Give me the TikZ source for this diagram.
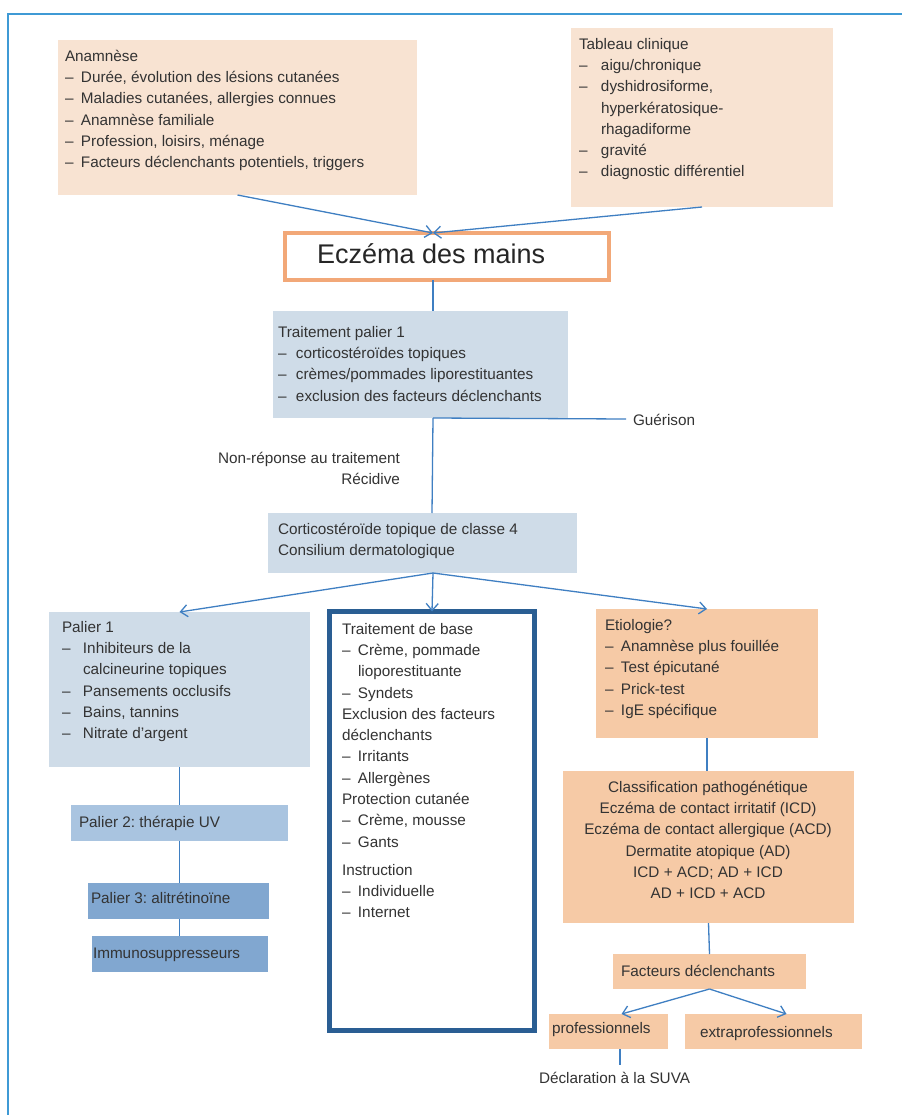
\documentclass[tikz,border=0pt]{standalone}
\usepackage{fontspec}
\setmainfont{Liberation Sans}
\usetikzlibrary{arrows.meta,fit,calc}
\definecolor{peach}{HTML}{F8E3D2}
\definecolor{orng}{HTML}{F6CAA6}
\definecolor{lblue}{HTML}{CFDCE8}
\definecolor{mblue}{HTML}{A9C4E0}
\definecolor{dblue}{HTML}{81A7D0}
\definecolor{conn}{HTML}{3F7FC2}
\definecolor{framec}{HTML}{3F9AD5}
\definecolor{ttl}{HTML}{F2A878}
\definecolor{navy}{HTML}{2A5E93}
\definecolor{txtc}{HTML}{333333}
\newcommand\li[2][16pt]{\makebox[#1][l]{–}#2}
\newcommand\lc[2][16pt]{\hspace*{#1}#2}
\frenchspacing
\begin{document}
\begin{tikzpicture}[x=1pt,y=-1pt,
 bx/.style={inner sep=0pt,outer sep=0pt},
 txt/.style={inner sep=0pt,outer sep=0pt,text=txtc,font=\fontsize{15.3}{21.3}\selectfont\frenchspacing,align=left},
 lbl/.style={inner sep=0pt,outer sep=0pt,text=txtc,font=\fontsize{15.3}{21.3}\selectfont\frenchspacing},
 conline/.style={draw=conn,line width=1.3pt},
 arr/.style={conline,-{Straight Barb[length=7pt,width=12pt,line width=1.3pt]}}]
\useasboundingbox (0,0) rectangle (902,1115);
\fill[white] (0,0) rectangle (902,1115);
% frame
\draw[framec,line width=2pt] (8,1115) -- (8,14) -- (902,14);
\coordinate (sp) at (433,0);
% top boxes
\node[bx,fill=peach,fit={(58,40) (417,195)}] (anam) {};
\node[txt,anchor=north west] (anamt) at (65,50.1) {Anamnèse\\
\li{Durée, évolution des lésions cutanées}\\
\li{Maladies cutanées, allergies connues}\\
\li{Anamnèse familiale}\\
\li{Profession, loisirs, ménage}\\
\li{Facteurs déclenchants potentiels, triggers}};
\node[bx,fill=peach,fit={(571,28) (833,207)}] (tab) {};
\node[txt,anchor=north west] (tabt) at (579,38.1) {Tableau clinique\\
\li[22pt]{aigu/chronique}\\
\li[22pt]{dyshidrosiforme,}\\
\lc[22pt]{hyperkératosique-}\\
\lc[22pt]{rhagadiforme}\\
\li[22pt]{gravité}\\
\li[22pt]{diagnostic différentiel}};
% title
\node[bx,fill=white,draw=ttl,line width=4pt,fit={(285,233) (609,280)}] (ecz) {};
\node[lbl,anchor=base west,font=\fontsize{27}{32}\selectfont,text=black!85] (eczt) at (317,263) {Eczéma des mains};
\draw[arr] (anam.south) -- (ecz.north -| sp);
\draw[arr] (tab.south) -- (ecz.north -| sp);
% treatment 1
\node[bx,fill=lblue,fit={(273,311) (568,418)}] (t1) {};
\node[txt,anchor=north west] (t1t) at (278,326.1) {Traitement palier 1\\
\li[18pt]{corticostéroïdes topiques}\\
\li[18pt]{crèmes/pommades liporestituantes}\\
\li[18pt]{exclusion des facteurs déclenchants}};
\draw[conline] (ecz.south -| sp) -- (t1.north -| sp);
\coordinate (gend) at (626,419);
\node[lbl,anchor=base west] (guer) at (633,425.5) {Guérison};
\draw[conline] (t1.south -| sp) -- (gend);
\node[txt,anchor=north east,align=right] (nonrep) at (400,452.1) {Non-réponse au traitement\\Récidive};
% cortico
\node[bx,fill=lblue,fit={(268,513) (577,573)}] (cort) {};
\node[txt,anchor=north west] (cortt) at (278,523.1) {Corticostéroïde topique de classe 4\\Consilium dermatologique};
\draw[conline] (t1.south -| sp) -- ([xshift=-1pt]cort.north -| sp);
% left column
\node[bx,fill=lblue,fit={(49,612) (310,767)}] (p1) {};
\node[txt,anchor=north west] (p1t) at (62,621.1) {Palier 1\\
\li[21pt]{Inhibiteurs de la}\\
\lc[21pt]{calcineurine topiques}\\
\li[21pt]{Pansements occlusifs}\\
\li[21pt]{Bains, tannins}\\
\li[21pt]{Nitrate d’argent}};
\node[bx,fill=mblue,fit={(71,805) (288,841)}] (p2) {};
\node[lbl,anchor=base west] (p2t) at (79,827.5) {Palier 2: thérapie UV};
\node[bx,fill=dblue,fit={(88,883) (269,919)}] (p3) {};
\node[lbl,anchor=base west] (p3t) at (91,903.5) {Palier 3: alitrétinoïne};
\node[bx,fill=dblue,fit={(92,936) (268,972)}] (imm) {};
\node[lbl,anchor=base west] (immt) at (93,958.5) {Immunosuppresseurs};
\draw[conline] (p1.south) -- (p2.north -| p1.south);
\draw[conline] (p2.south -| p1.south) -- (p3.north -| p1.south);
\draw[conline] (p3.south -| p1.south) -- (imm.north -| p1.south);
% middle column
\node[bx,draw=navy,fill=white,line width=5pt,fit={(329.5,611.5) (534.5,1030.5)}] (mid) {};
\node[txt,anchor=north west] (midt) at (342,623.1) {Traitement de base\\
\li{Crème, pommade}\\
\lc{lioporestituante}\\
\li{Syndets}\\
Exclusion des facteurs\\
déclenchants\\
\li{Irritants}\\
\li{Allergènes}\\
Protection cutanée\\
\li{Crème, mousse}\\
\li{Gants}\\[6.7pt]
Instruction\\
\li{Individuelle}\\
\li{Internet}};
% right column
\node[bx,fill=orng,fit={(596,609) (818,738)}] (eti) {};
\node[txt,anchor=north west] (etit) at (605,619.1) {Etiologie?\\
\li{Anamnèse plus fouillée}\\
\li{Test épicutané}\\
\li{Prick-test}\\
\li{IgE spécifique}};
\node[bx,fill=orng,fit={(563,771) (854,923)}] (cls) {};
\node[txt,anchor=north,align=center] (clst) at (708,781.1) {Classification pathogénétique\\
Eczéma de contact irritatif (ICD)\\
Eczéma de contact allergique (ACD)\\
Dermatite atopique (AD)\\
ICD + ACD; AD + ICD\\
AD + ICD + ACD};
\node[bx,fill=orng,fit={(613,954) (806,989)}] (fac) {};
\node[lbl,anchor=base west] (fact) at (621,976.5) {Facteurs déclenchants};
\node[bx,fill=orng,fit={(549,1014) (668,1049)}] (prof) {};
\node[lbl,anchor=base west] (proft) at (552,1033.5) {professionnels};
\node[bx,fill=orng,fit={(685,1014) (862,1049)}] (extra) {};
\node[lbl,anchor=base west] (extrat) at (700,1037.5) {extraprofessionnels};
\node[lbl,anchor=base west,inner sep=0pt] (decl) at (539,1083.5) {Déclaration à la SUVA};
% connectors from cortico
\draw[arr] (cort.south -| sp) -- (p1.north);
\draw[arr] (cort.south -| sp) -- (mid.north);
\draw[arr] (cort.south -| sp) -- (eti.north);
\draw[conline] (eti.south) -- (cls.north -| eti.south);
\draw[conline] (cls.south) -- (fac.north);
\draw[arr] (fac.south) -- ([xshift=13pt]prof.north);
\draw[arr] (fac.south) -- ([xshift=13pt]extra.north);
\coordinate (dtop) at (620,1065);
\draw[conline] (prof.south -| dtop) -- (dtop);
\end{tikzpicture}
\end{document}
